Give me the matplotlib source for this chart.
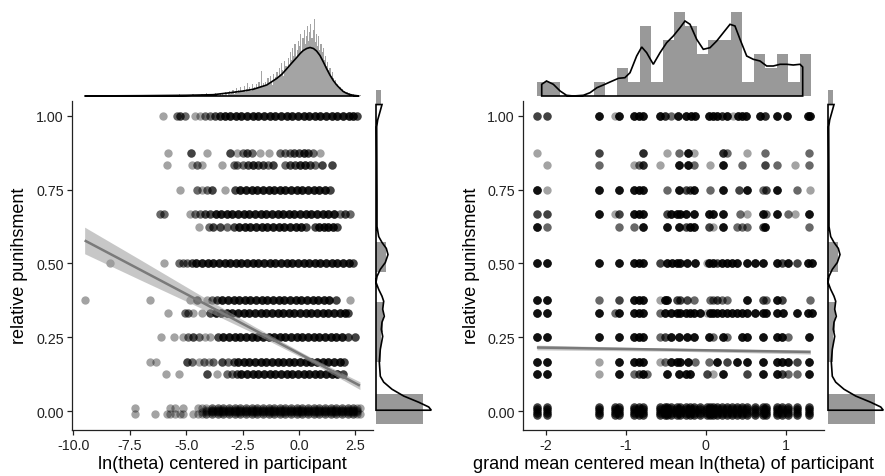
import matplotlib
matplotlib.use("Agg")
import matplotlib.pyplot as plt

plt.rcParams['font.family'] = ['Liberation Sans', 'DejaVu Sans']
plt.rcParams['axes.unicode_minus'] = False

# ---------------- data: left panel (within-participant) ----------------
# each level: list of (x, number of overlapping observations)
L_100 = [(-6.03,1), (-5.41,2), (-5.27,3), (-5.07,2), (-4.6,1), (-4.38,1), (-4.16,2), (-3.94,2), (-3.72,3), (-3.5,4),
         (-3.3,5), (-3.05,5), (-2.8,5), (-2.55,5), (-2.3,5), (-2.05,5), (-1.8,5), (-1.55,5), (-1.3,5), (-1.05,5),
         (-0.8,5), (-0.55,5), (-0.3,5), (-0.05,5), (0.2,5), (0.45,5), (0.7,5), (0.95,5), (1.2,5), (1.45,5),
         (1.7,5), (1.95,5), (2.2,5), (2.4,5), (2.55,3)]
L_0875 = [(-5.81,1), (-4.78,3), (-4.06,1), (-3.05,3), (-2.73,1), (-2.5,2), (-2.3,3), (-2.1,2), (-1.73,1), (-1.31,1),
          (-0.84,2), (-0.62,2), (-0.4,2), (-0.2,3), (0.0,3), (0.2,4), (0.4,3), (0.6,2), (0.93,1)]
L_0833 = [(-5.86,1), (-4.75,1), (-4.53,2), (-4.28,1), (-3.42,1), (-2.9,2), (-2.73,2), (-2.46,2), (-2.24,3), (-2.02,4),
          (-1.8,3), (-1.58,3), (-1.36,2), (-1.14,3), (-0.62,2), (-0.4,3), (-0.18,3), (0.04,4), (0.27,4), (0.49,3),
          (0.71,2), (1.0,3), (1.45,3)]
L_075 = [(-5.27,1), (-4.53,2), (-4.31,1), (-4.09,2), (-3.86,3), (-3.27,1), (-2.83,3), (-2.6,5), (-2.35,5), (-2.1,5),
         (-1.85,5), (-1.6,5), (-1.35,5), (-1.1,5), (-0.85,5), (-0.6,5), (-0.35,5), (-0.1,5), (0.15,5), (0.4,5),
         (0.65,5), (0.9,5), (1.15,5), (1.37,3)]
L_0667 = [(-6.15,2), (-6.0,2), (-4.82,1), (-4.6,2), (-4.38,2), (-4.16,3), (-3.94,3), (-3.7,5), (-3.45,5), (-3.2,5),
          (-2.95,5), (-2.7,5), (-2.45,5), (-2.2,5), (-1.95,5), (-1.7,5), (-1.45,5), (-1.2,5), (-0.95,5), (-0.7,5),
          (-0.45,5), (-0.2,5), (0.05,5), (0.3,5), (0.55,5), (0.8,5), (1.05,5), (1.3,5), (1.55,5), (1.81,2),
          (2.04,3), (2.26,2)]
L_0625 = [(-4.45,1), (-4.0,2), (-3.79,3), (-3.5,3), (-3.2,2), (-2.9,3), (-2.65,5), (-2.4,5), (-2.15,5), (-1.9,5),
          (-1.65,5), (-1.4,5), (-1.15,5), (-0.9,5), (-0.65,5), (-0.4,5), (-0.15,5), (0.1,5), (0.3,3), (0.7,3),
          (0.9,5), (1.1,5), (1.3,5), (1.5,5), (1.7,3)]
L_050 = [(-8.39,1), (-6.0,1), (-5.34,2), (-5.12,2), (-4.97,2), (-4.75,3), (-4.55,5), (-4.3,5), (-4.05,5), (-3.8,5),
         (-3.55,5), (-3.3,5), (-3.05,5), (-2.8,5), (-2.55,5), (-2.3,5), (-2.05,5), (-1.8,5), (-1.55,5), (-1.3,5),
         (-1.05,5), (-0.8,5), (-0.55,5), (-0.3,5), (-0.05,5), (0.2,5), (0.45,5), (0.7,5), (0.95,5), (1.2,5),
         (1.45,5), (1.7,5), (1.95,5), (2.2,5), (2.4,3)]
L_0375 = [(-9.5,1), (-6.62,1), (-4.85,1), (-4.53,3), (-4.09,1), (-3.86,2), (-3.64,3), (-3.4,5), (-3.15,5), (-2.9,5),
          (-2.65,5), (-2.4,5), (-2.15,5), (-1.9,5), (-1.65,5), (-1.4,5), (-1.15,5), (-0.9,5), (-0.65,5), (-0.4,5),
          (-0.15,5), (0.1,5), (0.35,5), (0.6,5), (0.85,5), (1.1,5), (1.35,5), (1.65,3), (2.26,1)]
L_0333 = [(-5.81,1), (-5.07,2), (-4.9,2), (-4.68,1), (-4.3,1), (-3.94,3), (-3.7,5), (-3.45,5), (-3.2,5), (-2.95,5),
          (-2.7,5), (-2.45,5), (-2.2,5), (-1.95,5), (-1.7,5), (-1.45,5), (-1.2,5), (-0.95,5), (-0.7,5), (-0.45,5),
          (-0.2,5), (0.05,5), (0.3,5), (0.55,5), (0.8,5), (1.05,5), (1.3,5), (1.55,5), (1.8,5), (2.05,5), (2.15,3)]
L_025 = [(-6.1,1), (-5.56,1), (-5.12,1), (-4.9,2), (-4.68,3), (-4.42,2), (-4.16,1), (-3.94,1), (-3.57,3), (-3.35,5),
         (-3.1,5), (-2.85,5), (-2.6,5), (-2.35,5), (-2.1,5), (-1.85,5), (-1.6,5), (-1.35,5), (-1.1,5), (-0.85,5),
         (-0.6,5), (-0.35,5), (-0.1,5), (0.15,5), (0.4,5), (0.65,5), (0.9,5), (1.15,5), (1.4,5), (1.65,5),
         (1.9,5), (2.15,3), (2.48,3)]
L_0167 = [(-6.6,1), (-6.33,1), (-4.97,3), (-4.75,2), (-4.45,1), (-4.23,2), (-4.0,1), (-3.79,2), (-3.42,3), (-3.13,2),
          (-2.9,3), (-2.7,5), (-2.45,5), (-2.2,5), (-1.95,5), (-1.7,5), (-1.45,5), (-1.2,5), (-0.95,5), (-0.7,5),
          (-0.45,5), (-0.2,5), (0.05,5), (0.3,5), (0.55,5), (0.8,5), (1.05,5), (1.3,5), (1.55,5), (1.8,5), (2.0,3)]
L_0125 = [(-5.9,1), (-5.31,1), (-4.09,3), (-3.64,1), (-3.2,2), (-2.98,2), (-2.76,3), (-2.55,5), (-2.3,5), (-2.05,5),
          (-1.8,5), (-1.55,5), (-1.3,5), (-1.05,5), (-0.8,5), (-0.55,5), (-0.3,5), (-0.05,5), (0.2,5), (0.45,5),
          (0.7,5), (0.95,5), (1.2,5), (1.45,5), (1.7,5), (1.95,3)]
L_000 = [(-7.26,2), (-6.4,1), (-5.86,1), (-5.71,2), (-5.49,2), (-5.27,1), (-5.12,2), (-4.68,1), (-4.48,2), (-4.3,3),
         (-4.1,6), (-3.85,10), (-3.6,10), (-3.35,10), (-3.1,10), (-2.85,10), (-2.6,10), (-2.35,10), (-2.1,10),
         (-1.85,10), (-1.6,10), (-1.35,10), (-1.1,10), (-0.85,10), (-0.6,10), (-0.35,10), (-0.1,10), (0.15,10),
         (0.4,10), (0.65,10), (0.9,10), (1.15,10), (1.4,10), (1.65,10), (1.9,10), (2.15,10), (2.4,10), (2.55,5),
         (2.7,2)]
left_levels = [(1.0, L_100), (0.875, L_0875), (0.8333, L_0833), (0.75, L_075), (0.6667, L_0667), (0.625, L_0625),
               (0.5, L_050), (0.375, L_0375), (0.3333, L_0333), (0.25, L_025), (0.1667, L_0167), (0.125, L_0125)]
left_jitter0 = [-0.011, 0.011, -0.004, 0.004, 0.0]

# regression fit (left): intercept, slope, x-range and CI half widths
fitL_b0, fitL_b1 = 0.195, -0.0403
fitL_x = [-9.5, -7.0, -4.5, -2.0, 0.5, 2.7]
fitL_ci = [0.045, 0.034, 0.022, 0.012, 0.008, 0.013]

# ---------------- data: right panel (between-participant) ----------------
R_100 = [(-2.11,3), (-1.99,3), (-1.34,6), (-1.13,1), (-1.08,6), (-0.9,6), (-0.84,6), (-0.78,6), (-0.57,6), (-0.51,4),
         (-0.44,2), (-0.34,6), (-0.24,6), (-0.18,6), (-0.13,6), (0.045,6), (0.096,6), (0.146,6), (0.2,4), (0.262,6),
         (0.346,1), (0.41,6), (0.45,6), (0.51,6), (0.68,6), (0.742,4), (0.887,6), (1.012,6), (1.283,6), (1.304,6)]
R_0875 = [(-2.11,1), (-1.34,3), (-0.78,4), (-0.48,1), (-0.334,2), (-0.217,6), (-0.142,1), (0.212,4), (0.271,2),
          (0.512,1), (0.742,2), (1.296,2)]
R_0833 = [(-1.99,1), (-1.34,2), (-0.896,1), (-0.83,2), (-0.78,4), (-0.571,1), (-0.334,6), (-0.217,6), (-0.142,2),
          (0.054,1), (0.212,6), (0.45,2), (0.742,3), (0.887,2), (1.117,1), (1.296,2)]
R_075 = [(-2.11,6), (-1.99,1), (-1.34,6), (-1.08,6), (-0.896,6), (-0.83,6), (-0.78,6), (-0.48,2), (-0.334,6),
         (-0.246,3), (-0.196,3), (-0.142,6), (0.054,2), (0.212,6), (0.42,3), (0.512,6), (0.712,2), (0.75,3),
         (0.887,6), (1.137,2), (1.304,1)]
R_0667 = [(-2.11,3), (-1.99,3), (-1.34,6), (-1.13,1), (-1.08,3), (-0.896,6), (-0.83,6), (-0.78,6), (-0.488,3),
          (-0.438,6), (-0.363,6), (-0.321,6), (-0.246,6), (-0.142,6), (0.045,6), (0.096,6), (0.212,6), (0.429,2),
          (0.512,1), (0.712,6), (0.75,2), (0.887,6), (1.033,2), (1.117,1), (1.296,6)]
R_0625 = [(-2.11,6), (-1.99,2), (-1.08,2), (-0.896,2), (-0.78,6), (-0.48,6), (-0.334,6), (-0.246,3), (-0.196,6),
          (-0.142,6), (0.045,3), (0.096,1), (0.212,6), (0.396,2), (0.45,2), (0.512,2), (0.712,3), (0.742,6),
          (1.296,2)]
R_050 = [(-2.11,6), (-1.99,6), (-1.34,6), (-1.08,6), (-0.896,6), (-0.83,6), (-0.78,6), (-0.571,3), (-0.488,6),
         (-0.425,6), (-0.363,6), (-0.321,6), (-0.238,6), (-0.134,6), (0.012,1), (0.045,6), (0.096,6), (0.146,3),
         (0.2,6), (0.262,6), (0.325,6), (0.387,6), (0.512,6), (0.617,6), (0.721,6), (0.887,6), (0.95,3),
         (1.033,6), (1.137,3), (1.283,6), (1.325,6)]
R_0375 = [(-2.11,6), (-1.99,6), (-1.34,2), (-1.08,3), (-0.896,6), (-0.83,6), (-0.78,6), (-0.571,1), (-0.509,6),
          (-0.48,6), (-0.363,3), (-0.321,3), (-0.238,3), (-0.142,2), (0.054,2), (0.096,2), (0.146,3), (0.2,2),
          (0.262,2), (0.512,6), (0.721,3), (0.75,2), (0.887,6), (0.95,3), (1.304,2)]
R_0333 = [(-2.11,6), (-1.99,6), (-1.34,6), (-1.13,2), (-1.08,6), (-0.896,6), (-0.83,6), (-0.78,6), (-0.571,2),
          (-0.509,6), (-0.438,6), (-0.363,6), (-0.321,6), (-0.246,6), (-0.196,6), (-0.142,6), (-0.071,6), (0.012,1),
          (0.054,6), (0.096,6), (0.146,6), (0.2,6), (0.262,6), (0.325,6), (0.387,6), (0.45,6), (0.512,6),
          (0.617,6), (0.712,6), (0.75,6), (0.887,6), (0.97,6), (1.137,6), (1.283,6), (1.325,6)]
R_025 = [(-2.11,6), (-1.99,6), (-1.34,6), (-1.08,6), (-0.896,6), (-0.83,6), (-0.78,6), (-0.571,2), (-0.509,3),
         (-0.438,6), (-0.334,6), (-0.238,6), (-0.142,6), (0.045,6), (0.096,2), (0.212,6), (0.271,2), (0.45,6),
         (0.512,6), (0.721,6), (0.887,6), (0.95,6), (1.033,2), (1.296,6)]
R_0167 = [(-2.11,6), (-1.99,6), (-1.34,1), (-1.08,6), (-0.896,6), (-0.83,6), (-0.78,6), (-0.571,1), (-0.509,2),
          (-0.438,6), (-0.363,6), (-0.321,6), (-0.217,6), (-0.134,2), (0.045,2), (0.146,6), (0.262,3), (0.387,6),
          (0.512,6), (0.721,6), (0.887,6), (0.95,6), (1.033,6), (1.137,3), (1.296,6)]
R_0125 = [(-2.11,6), (-1.99,6), (-1.34,1), (-1.08,6), (-0.896,2), (-0.83,3), (-0.78,6), (-0.738,2), (-0.48,6),
          (-0.334,6), (-0.246,6), (-0.196,6), (0.012,3), (0.096,1), (0.212,6), (0.512,3), (0.721,6), (0.887,6),
          (0.95,3), (1.033,2), (1.137,2), (1.296,6)]
R_000_x = [-2.11, -1.99, -1.34, -1.13, -1.08, -0.896, -0.83, -0.78, -0.571, -0.509, -0.48, -0.438, -0.363, -0.321,
           -0.246, -0.196, -0.142, -0.071, 0.012, 0.054, 0.096, 0.146, 0.2, 0.262, 0.325, 0.387, 0.45, 0.512,
           0.617, 0.712, 0.75, 0.887, 0.95, 1.033, 1.137, 1.296]
R_000_n = 14
right_levels = [(1.0, R_100), (0.875, R_0875), (0.8333, R_0833), (0.75, R_075), (0.6667, R_0667), (0.625, R_0625),
                (0.5, R_050), (0.375, R_0375), (0.3333, R_0333), (0.25, R_025), (0.1667, R_0167), (0.125, R_0125)]
right_jitter0 = [-0.0125, 0.0125, -0.006, 0.006, 0.0]

fitR_b0, fitR_b1 = 0.206, -0.0044
fitR_x = [-2.11, -0.4, 1.31]
fitR_ci = [0.008, 0.005, 0.007]

# ---------------- marginal distributions ----------------
# top-left: fine histogram of within-participant ln(theta) (bar heights, px scale)
hL_tail_x = [-6.1, -5.7, -5.3, -5.0, -4.7, -4.5, -4.3, -4.1, -3.9, -3.7]
hL_tail_h = [1, 1, 2, 1, 2, 1, 2, 3, 2, 3]
hL_start, hL_width = -3.5, 0.05
hL_h = [2, 0, 3, 1, 4, 2, 0, 3, 5, 2,
        4, 6, 2, 5, 8, 3, 6, 4, 9, 5,
        6, 10, 4, 7, 13, 6, 9, 5, 12, 8,
        9, 7, 12, 8, 14, 10, 25, 9, 13, 11,
        14, 10, 18, 12, 20, 15, 11, 22, 17, 19,
        24, 18, 28, 22, 33, 26, 20, 35, 30, 27,
        38, 30, 44, 36, 48, 40, 52, 38, 46, 55,
        50, 62, 45, 58, 66, 52, 60, 70, 55, 64,
        72, 58, 66, 77, 54, 62, 50, 60, 46, 52,
        44, 48, 36, 40, 30, 34, 26, 28, 20, 24,
        18, 14, 16, 10, 12, 8, 9, 5, 7, 4,
        5, 3, 4, 2, 3, 1, 2, 1, 2, 1,
        1, 0, 1, 0, 1]
dL_x = [-9.5, -7.0, -5.0, -3.8, -3.05, -2.47, -2.03, -1.43, -0.99, -0.77, -0.55, -0.32, -0.1, 0.05, 0.19, 0.34,
        0.49, 0.64, 0.78, 0.93, 1.08, 1.22, 1.37, 1.52, 1.67, 1.82, 1.96, 2.11, 2.26, 2.41, 2.56, 2.67]
dL_h = [0.0, 0.3, 0.7, 1.3, 3.3, 5.0, 6.7, 11.0, 17.5, 21.5, 27.0, 33.0, 38.5, 42.5, 45.5, 47.5,
        48.5, 47.5, 45.0, 40.5, 34.0, 27.5, 21.0, 15.5, 11.0, 7.5, 4.5, 2.7, 1.5, 0.7, 0.3, 0.0]

# top-right: histogram of participant means (counts) + density (px scale)
hR_start, hR_width = -2.109, 0.1427
hR_counts = [1, 1, 0, 0, 0, 1, 0, 2, 1, 5, 1, 4, 6, 5, 3, 4, 4, 6, 1, 3, 2, 3, 1, 3]
hR_px_per_count = 14.0
dR_x = [-2.05, -2.05, -1.99, -1.905, -1.82, -1.74, -1.655, -1.53, -1.446, -1.36, -1.28, -1.196, -1.09, -1.01,
        -0.946, -0.863, -0.80, -0.738, -0.655, -0.571, -0.488, -0.405, -0.321, -0.259, -0.196, -0.113, -0.03,
        0.054, 0.1375, 0.22, 0.304, 0.366, 0.429, 0.5125, 0.595, 0.679, 0.7625, 0.845, 0.929, 1.0125, 1.095,
        1.179, 1.2125, 1.2125]
dR_h = [0, 11.7, 15.0, 11.7, 5.0, 0.7, 0.0, 0.7, 3.3, 8.3, 11.0, 14.0, 17.7, 18.3,
        23.3, 40.0, 49.0, 43.3, 31.7, 43.3, 53.3, 60.0, 68.3, 75.0, 71.7, 56.7, 46.7,
        48.3, 55.0, 63.3, 71.7, 70.0, 56.7, 40.0, 36.7, 35.0, 30.0, 30.0, 31.7, 31.7, 31.0,
        31.7, 29.0, 0]

# right margins (relative punishment): histogram bars and density (px widths)
mar_lo = [-0.044, 0.165, 0.267, 0.470, 1.037]
mar_hi = [0.057, 0.267, 0.368, 0.574, 1.088]
mar_w = [46.7, 5.3, 7.0, 10.0, 4.7]
mar_dy = [1.038, 1.038, 1.010, 0.986, 0.963, 0.885, 0.716, 0.625, 0.591, 0.571, 0.551, 0.530, 0.503, 0.480,
          0.456, 0.436, 0.412, 0.389, 0.372, 0.345, 0.321, 0.301, 0.277, 0.253, 0.209, 0.166, 0.118, 0.098,
          0.074, 0.051, 0.030, 0.014, 0.003, 0.003]
mar_dw = [0, 6.0, 3.7, 1.7, 0.7, 0.8, 1.0, 1.0, 2.7, 6.0, 10.3, 12.0, 9.3, 4.3,
          1.0, 0.0, 2.7, 6.0, 7.7, 6.7, 8.3, 6.0, 5.3, 6.7, 4.3, 3.3, 4.3, 7.7,
          16.0, 27.7, 42.7, 52.7, 55.3, 0]

yticks = [0.0, 0.25, 0.5, 0.75, 1.0]
yticklabels = ['0.00', '0.25', '0.50', '0.75', '1.00']
xticksL = [-10.0, -7.5, -5.0, -2.5, 0.0, 2.5]
xticksR = [-2, -1, 0, 1]

# ---------------- layout ----------------
W, H = 885, 477
fig = plt.figure(figsize=(W / 100, H / 100), dpi=100)
fig.patch.set_facecolor('white')


def box(x0, y0, x1, y1):
    return [x0 / W, 1 - y1 / H, (x1 - x0) / W, (y1 - y0) / H]


axL = fig.add_axes(box(72, 102, 373, 431))
axLt = fig.add_axes(box(72, 8, 373, 97))
axLr = fig.add_axes(box(376, 102, 440, 431))
axR = fig.add_axes(box(523, 102, 824, 431))
axRt = fig.add_axes(box(523, 8, 824, 97))
axRr = fig.add_axes(box(828, 102, 885, 431))

YLIM = (-0.064, 1.05)
MS = 36
ALPHA = 0.36
BAR = '#999999'


def expand(levels, zero_pts, jitter):
    xs, ys = [], []
    for y, pts in levels:
        for x, n in pts:
            for i in range(n):
                xs.append(x)
                ys.append(y)
    for x, n in zero_pts:
        for i in range(n):
            xs.append(x)
            ys.append(jitter[i % len(jitter)])
    return xs, ys


# left scatter
xs, ys = expand(left_levels, L_000, left_jitter0)
axL.scatter(xs, ys, s=MS, c='black', alpha=ALPHA, linewidths=0, zorder=2)
fy = [fitL_b0 + fitL_b1 * x for x in fitL_x]
axL.fill_between(fitL_x, [f - c for f, c in zip(fy, fitL_ci)], [f + c for f, c in zip(fy, fitL_ci)],
                 color='#9a9a9a', alpha=0.55, linewidth=0, zorder=3)
axL.plot(fitL_x, fy, color='#7a7a7a', lw=1.8, zorder=4, solid_capstyle='butt')

# right scatter
xs, ys = expand(right_levels, [(x, R_000_n) for x in R_000_x], right_jitter0)
axR.scatter(xs, ys, s=MS, c='black', alpha=ALPHA, linewidths=0, zorder=2)
fy = [fitR_b0 + fitR_b1 * x for x in fitR_x]
axR.fill_between(fitR_x, [f - c for f, c in zip(fy, fitR_ci)], [f + c for f, c in zip(fy, fitR_ci)],
                 color='#9a9a9a', alpha=0.55, linewidth=0, zorder=3)
axR.plot(fitR_x, fy, color='#7a7a7a', lw=1.8, zorder=4, solid_capstyle='butt')

for ax, xl, xt, xtl in ((axL, (-10.06, 3.28), xticksL, ['%.1f' % v for v in xticksL]),
                        (axR, (-2.284, 1.479), xticksR, ['%d' % v for v in xticksR])):
    ax.set_xlim(*xl)
    ax.set_ylim(*YLIM)
    ax.set_xticks(xt)
    ax.set_xticklabels(xtl)
    ax.set_yticks(yticks)
    ax.set_yticklabels(yticklabels)
    for s in ('top', 'right'):
        ax.spines[s].set_visible(False)
    for s in ('left', 'bottom'):
        ax.spines[s].set_linewidth(0.9)
        ax.spines[s].set_color('#222222')
    ax.tick_params(direction='out', length=3.6, width=0.9, color='#222222',
                   labelsize=10.3, labelcolor='#222222', pad=2.4)

# top-left marginal
hL_centers = [hL_start + hL_width * (i + 0.5) for i in range(len(hL_h))]
axLt.bar(hL_tail_x, hL_tail_h, width=hL_width, color='#a4a4a4', linewidth=0)
axLt.bar(hL_centers, hL_h, width=hL_width, color='#a4a4a4', linewidth=0)
axLt.fill(dL_x, dL_h, facecolor='none', edgecolor='black', lw=1.2, clip_on=False)
axLt.set_xlim(-10.06, 3.28)
axLt.set_ylim(0, 89)
axLt.axis('off')

# top-right marginal
hR_centers = [hR_start + hR_width * (i + 0.5) for i in range(len(hR_counts))]
axRt.bar(hR_centers, [c * hR_px_per_count for c in hR_counts], width=hR_width, color=BAR, linewidth=0)
axRt.fill(dR_x, dR_h, facecolor='none', edgecolor='black', lw=1.2, clip_on=False)
axRt.set_xlim(-2.284, 1.479)
axRt.set_ylim(0, 89)
axRt.axis('off')

# right marginals (same y distribution for both panels)
for ax, wmax in ((axLr, 64), (axRr, 57)):
    for lo, hi, w in zip(mar_lo, mar_hi, mar_w):
        ax.barh((lo + hi) / 2, w, height=hi - lo, left=0, color=BAR, linewidth=0, clip_on=False)
    ax.fill(mar_dw, mar_dy, facecolor='none', edgecolor='black', lw=1.2, clip_on=False)
    ax.set_ylim(*YLIM)
    ax.set_xlim(0, wmax)
    ax.axis('off')

# axis titles
fig.text(222.5 / W, 1 - 465 / H, 'ln(theta) centered in participant', ha='center', va='center', fontsize=13)
fig.text(673.5 / W, 1 - 465 / H, 'grand mean centered mean ln(theta) of participant', ha='center', va='center',
         fontsize=13)
fig.text(20 / W, 1 - 266 / H, 'relative punihsment', ha='center', va='center', rotation=90, fontsize=13)
fig.text(471 / W, 1 - 266 / H, 'relative punihsment', ha='center', va='center', rotation=90, fontsize=13)

fig.savefig('out.png', dpi=100, facecolor='white')
